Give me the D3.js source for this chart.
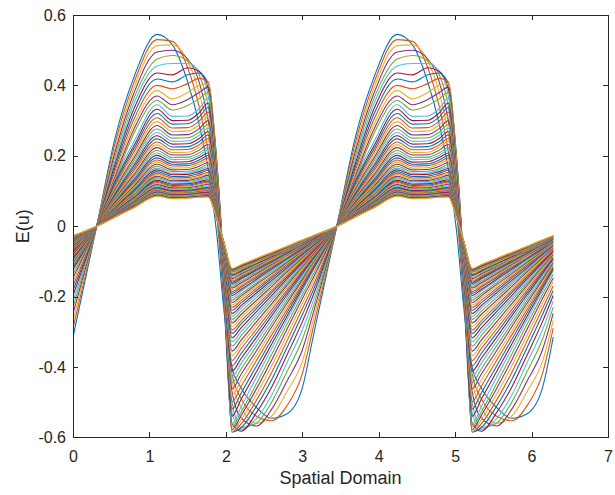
<!DOCTYPE html>
<html><head><meta charset="utf-8">
<script src="https://cdn.jsdelivr.net/npm/d3@7"></script>
<style>body{margin:0;background:#fff}svg{display:block}</style>
</head><body><svg id="c" width="615" height="495"></svg>
<script>
// Shared x positions of one spatial period (the domain [0, 2π] holds two identical periods)
const xGrid = [0, 0.31, 0.55, 0.8, 1.1, 1.3, 1.5, 1.65, 1.77, 1.88, 1.98, 2.08, 2.2, 2.4, 2.6, 2.8, 3.0];
const periodShift = [0, Math.PI];
const domainEnd = 2 * Math.PI;
const xTicks = [0, 1, 2, 3, 4, 5, 6, 7];
const yTicks = [-0.6, -0.4, -0.2, 0, 0.2, 0.4, 0.6];
const xLabel = "Spatial Domain";
const yLabel = "E(u)";
const colorOrder = ["#0072BD", "#D95319", "#EDB120", "#7E2F8E", "#77AC30", "#4DBEEE", "#A2142F"];
// E(u) for each time step (row), at xGrid
const eCurves = [
[-0.315,0,0.25,0.425,0.545,0.515,0.41,0.29,0.16,-0.02,-0.25,-0.40,-0.46,-0.515,-0.546,-0.533,-0.46],
[-0.29,0,0.235,0.41,0.53,0.525,0.45,0.34,0.21,0.03,-0.22,-0.42,-0.49,-0.54,-0.553,-0.51,-0.42],
[-0.268,0,0.222,0.395,0.513,0.515,0.47,0.38,0.26,0.07,-0.2,-0.44,-0.515,-0.56,-0.54,-0.47,-0.385],
[-0.248,0,0.21,0.38,0.495,0.5,0.475,0.41,0.3,0.11,-0.18,-0.47,-0.545,-0.568,-0.52,-0.44,-0.352],
[-0.23,0,0.198,0.365,0.475,0.485,0.47,0.43,0.34,0.14,-0.17,-0.5,-0.572,-0.56,-0.5,-0.413,-0.322],
[-0.213,0,0.187,0.35,0.455,0.462,0.462,0.44,0.37,0.16,-0.16,-0.53,-0.578,-0.547,-0.48,-0.388,-0.295],
[-0.197,0,0.176,0.335,0.435,0.43,0.45,0.44,0.39,0.18,-0.15,-0.56,-0.583,-0.53,-0.457,-0.366,-0.272],
[-0.183,0,0.166,0.32,0.418,0.41,0.43,0.435,0.405,0.19,-0.15,-0.585,-0.573,-0.512,-0.436,-0.345,-0.252],
[-0.17,0,0.157,0.305,0.4,0.39,0.405,0.42,0.41,0.18,-0.16,-0.585,-0.562,-0.495,-0.416,-0.326,-0.235],
[-0.158,0,0.148,0.29,0.385,0.362,0.38,0.4,0.405,0.17,-0.17,-0.583,-0.55,-0.478,-0.397,-0.309,-0.22],
[-0.147,0,0.14,0.277,0.37,0.345,0.36,0.38,0.395,0.15,-0.18,-0.578,-0.538,-0.462,-0.38,-0.293,-0.206],
[-0.137,0,0.133,0.265,0.357,0.33,0.343,0.362,0.38,0.12,-0.2,-0.57,-0.528,-0.448,-0.364,-0.279,-0.195],
[-0.127,0,0.132,0.241,0.345,0.312,0.313,0.334,0.364,0.086,-0.238,-0.562,-0.513,-0.43,-0.348,-0.266,-0.184],
[-0.122,0,0.126,0.23,0.332,0.3,0.301,0.322,0.35,0.083,-0.229,-0.54,-0.492,-0.414,-0.335,-0.256,-0.177],
[-0.118,0,0.12,0.221,0.32,0.29,0.291,0.31,0.337,0.08,-0.22,-0.52,-0.474,-0.398,-0.322,-0.246,-0.171],
[-0.113,0,0.114,0.212,0.308,0.279,0.28,0.298,0.324,0.077,-0.211,-0.499,-0.455,-0.382,-0.309,-0.237,-0.164],
[-0.108,0,0.109,0.203,0.297,0.269,0.27,0.288,0.312,0.074,-0.203,-0.48,-0.438,-0.368,-0.298,-0.228,-0.157],
[-0.104,0,0.104,0.195,0.286,0.259,0.26,0.277,0.3,0.071,-0.195,-0.462,-0.421,-0.354,-0.286,-0.219,-0.152],
[-0.101,0,0.1,0.187,0.276,0.25,0.251,0.267,0.289,0.069,-0.188,-0.445,-0.406,-0.341,-0.276,-0.211,-0.146],
[-0.097,0,0.095,0.179,0.266,0.241,0.242,0.258,0.278,0.066,-0.181,-0.428,-0.39,-0.328,-0.265,-0.203,-0.14],
[-0.093,0,0.091,0.173,0.257,0.233,0.234,0.249,0.269,0.065,-0.174,-0.412,-0.376,-0.316,-0.255,-0.195,-0.135],
[-0.09,0,0.088,0.166,0.248,0.225,0.226,0.24,0.259,0.062,-0.167,-0.397,-0.362,-0.304,-0.246,-0.188,-0.13],
[-0.086,0,0.084,0.159,0.239,0.217,0.218,0.231,0.249,0.06,-0.161,-0.382,-0.348,-0.293,-0.237,-0.181,-0.125],
[-0.083,0,0.08,0.153,0.231,0.209,0.21,0.224,0.241,0.058,-0.155,-0.368,-0.336,-0.282,-0.228,-0.174,-0.121],
[-0.08,0,0.077,0.147,0.223,0.202,0.203,0.216,0.232,0.056,-0.15,-0.355,-0.324,-0.272,-0.22,-0.168,-0.116],
[-0.077,0,0.074,0.142,0.215,0.195,0.196,0.208,0.223,0.054,-0.144,-0.341,-0.311,-0.261,-0.211,-0.162,-0.112],
[-0.074,0,0.071,0.137,0.208,0.189,0.19,0.201,0.216,0.052,-0.138,-0.329,-0.3,-0.252,-0.204,-0.156,-0.108],
[-0.072,0,0.068,0.132,0.201,0.182,0.183,0.195,0.208,0.05,-0.133,-0.317,-0.289,-0.243,-0.197,-0.15,-0.104],
[-0.069,0,0.065,0.127,0.194,0.176,0.177,0.188,0.201,0.049,-0.128,-0.305,-0.278,-0.234,-0.189,-0.145,-0.1],
[-0.067,0,0.063,0.122,0.188,0.171,0.172,0.182,0.194,0.047,-0.124,-0.295,-0.269,-0.226,-0.183,-0.14,-0.097],
[-0.064,0,0.061,0.118,0.182,0.165,0.166,0.176,0.188,0.046,-0.119,-0.285,-0.26,-0.218,-0.177,-0.135,-0.093],
[-0.062,0,0.058,0.114,0.176,0.16,0.161,0.17,0.181,0.044,-0.115,-0.275,-0.251,-0.211,-0.171,-0.13,-0.09],
[-0.06,0,0.056,0.11,0.17,0.155,0.156,0.164,0.175,0.043,-0.111,-0.265,-0.242,-0.203,-0.164,-0.126,-0.087],
[-0.058,0,0.054,0.106,0.165,0.15,0.151,0.16,0.169,0.041,-0.107,-0.256,-0.233,-0.196,-0.159,-0.121,-0.084],
[-0.056,0,0.052,0.103,0.16,0.146,0.147,0.155,0.164,0.04,-0.104,-0.248,-0.226,-0.19,-0.154,-0.118,-0.081],
[-0.054,0,0.05,0.099,0.155,0.141,0.142,0.15,0.159,0.04,-0.1,-0.239,-0.218,-0.183,-0.148,-0.113,-0.078],
[-0.052,0,0.049,0.096,0.15,0.137,0.138,0.145,0.153,0.038,-0.097,-0.231,-0.211,-0.177,-0.143,-0.109,-0.076],
[-0.051,0,0.047,0.093,0.146,0.133,0.134,0.141,0.149,0.037,-0.093,-0.224,-0.204,-0.172,-0.139,-0.106,-0.073],
[-0.049,0,0.046,0.09,0.142,0.129,0.13,0.137,0.145,0.036,-0.09,-0.217,-0.198,-0.166,-0.135,-0.103,-0.071],
[-0.047,0,0.044,0.088,0.138,0.126,0.127,0.133,0.14,0.035,-0.088,-0.21,-0.192,-0.161,-0.13,-0.1,-0.069],
[-0.046,0,0.043,0.085,0.134,0.122,0.123,0.13,0.136,0.034,-0.084,-0.203,-0.185,-0.155,-0.126,-0.096,-0.067],
[-0.044,0,0.041,0.082,0.13,0.119,0.12,0.126,0.132,0.033,-0.082,-0.197,-0.18,-0.151,-0.122,-0.093,-0.065],
[-0.043,0,0.04,0.08,0.127,0.116,0.117,0.123,0.128,0.032,-0.079,-0.191,-0.174,-0.146,-0.118,-0.091,-0.063],
[-0.042,0,0.039,0.078,0.124,0.113,0.114,0.12,0.125,0.032,-0.077,-0.186,-0.17,-0.142,-0.115,-0.088,-0.061],
[-0.041,0,0.038,0.076,0.121,0.11,0.111,0.117,0.122,0.031,-0.075,-0.181,-0.165,-0.139,-0.112,-0.086,-0.059],
[-0.04,0,0.037,0.074,0.118,0.108,0.109,0.114,0.119,0.03,-0.073,-0.176,-0.161,-0.135,-0.109,-0.083,-0.058],
[-0.039,0,0.036,0.072,0.115,0.105,0.106,0.111,0.115,0.029,-0.071,-0.171,-0.156,-0.131,-0.106,-0.081,-0.056],
[-0.038,0,0.035,0.07,0.112,0.102,0.103,0.108,0.112,0.029,-0.069,-0.166,-0.151,-0.127,-0.103,-0.079,-0.054],
[-0.037,0,0.034,0.069,0.11,0.101,0.102,0.106,0.11,0.028,-0.067,-0.163,-0.149,-0.125,-0.101,-0.077,-0.053],
[-0.036,0,0.034,0.068,0.108,0.099,0.1,0.104,0.108,0.028,-0.066,-0.159,-0.145,-0.122,-0.099,-0.075,-0.052],
[-0.035,0,0.033,0.066,0.106,0.097,0.098,0.102,0.106,0.027,-0.064,-0.156,-0.142,-0.119,-0.097,-0.074,-0.051],
[-0.034,0,0.032,0.065,0.104,0.095,0.096,0.1,0.104,0.027,-0.062,-0.152,-0.139,-0.116,-0.094,-0.072,-0.05],
[-0.034,0,0.032,0.064,0.102,0.093,0.094,0.098,0.101,0.026,-0.062,-0.149,-0.136,-0.114,-0.092,-0.071,-0.049],
[-0.033,0,0.031,0.063,0.1,0.092,0.093,0.097,0.099,0.025,-0.06,-0.146,-0.133,-0.112,-0.091,-0.069,-0.048],
[-0.032,0,0.03,0.061,0.098,0.09,0.091,0.095,0.097,0.025,-0.058,-0.142,-0.13,-0.109,-0.088,-0.067,-0.047],
[-0.032,0,0.03,0.06,0.097,0.089,0.09,0.094,0.096,0.025,-0.057,-0.14,-0.128,-0.107,-0.087,-0.066,-0.046],
[-0.031,0,0.029,0.059,0.095,0.087,0.088,0.092,0.094,0.025,-0.056,-0.137,-0.125,-0.105,-0.085,-0.065,-0.045],
[-0.031,0,0.029,0.059,0.094,0.086,0.087,0.091,0.093,0.025,-0.055,-0.135,-0.123,-0.103,-0.084,-0.064,-0.044],
[-0.03,0,0.028,0.058,0.093,0.085,0.086,0.09,0.092,0.024,-0.055,-0.134,-0.122,-0.103,-0.083,-0.064,-0.044],
[-0.029,0,0.028,0.057,0.091,0.083,0.084,0.088,0.09,0.024,-0.053,-0.13,-0.119,-0.1,-0.081,-0.062,-0.043],
[-0.029,0,0.027,0.056,0.09,0.083,0.084,0.087,0.088,0.023,-0.053,-0.129,-0.118,-0.099,-0.08,-0.061,-0.042],
[-0.029,0,0.027,0.055,0.089,0.082,0.083,0.086,0.087,0.023,-0.052,-0.127,-0.116,-0.097,-0.079,-0.06,-0.042],
[-0.028,0,0.027,0.055,0.088,0.081,0.082,0.085,0.086,0.023,-0.051,-0.125,-0.114,-0.096,-0.078,-0.059,-0.041],
[-0.028,0,0.026,0.054,0.087,0.08,0.081,0.084,0.085,0.023,-0.05,-0.123,-0.112,-0.094,-0.076,-0.058,-0.04],
[-0.028,0,0.026,0.053,0.086,0.079,0.08,0.083,0.084,0.022,-0.05,-0.122,-0.111,-0.093,-0.076,-0.058,-0.04],
[-0.027,0,0.026,0.053,0.085,0.078,0.079,0.082,0.083,0.022,-0.049,-0.12,-0.109,-0.092,-0.074,-0.057,-0.039]
];

const svg = d3.select("#c");
const x = d3.scaleLinear().domain([0, 7]).range([73, 608]);
const y = d3.scaleLinear().domain([-0.6, 0.6]).range([437.3, 15]);
const axisColor = "#262626";
const font = "'Liberation Sans', Arial, Helvetica, sans-serif";

svg.append("defs").append("clipPath").attr("id", "clip")
  .append("rect").attr("x", x(0)).attr("y", y(0.6)).attr("width", x(7) - x(0)).attr("height", y(-0.6) - y(0.6));

const line = d3.line().x(d => x(d[0])).y(d => y(d[1])).curve(d3.curveMonotoneX);

const plot = svg.append("g").attr("clip-path", "url(#clip)");
eCurves.forEach((row, k) => {
  const pts = [];
  periodShift.forEach(s => xGrid.forEach((xv, i) => pts.push([xv + s, row[i]])));
  pts.push([domainEnd, row[0]]);
  plot.append("path").attr("d", line(pts))
    .attr("fill", "none").attr("stroke", colorOrder[k % colorOrder.length])
    .attr("stroke-width", 1.1).attr("stroke-linejoin", "round");
});

const fmt = d => String(d);
function styleAxis(g) {
  g.select(".domain").remove();
  g.selectAll("line").attr("stroke", axisColor).attr("shape-rendering", "crispEdges");
  g.selectAll("text").attr("fill", axisColor).style("font-family", font).style("font-size", "16px");
}
svg.append("g").attr("transform", `translate(0,${y(-0.6)})`)
  .call(d3.axisBottom(x).tickValues(xTicks).tickFormat(fmt).tickSize(-5).tickPadding(13)).call(styleAxis);
svg.append("g").attr("transform", `translate(0,${y(0.6)})`)
  .call(d3.axisTop(x).tickValues(xTicks).tickFormat("").tickSize(-5)).call(styleAxis);
svg.append("g").attr("transform", `translate(${x(0)},0)`)
  .call(d3.axisLeft(y).tickValues(yTicks).tickFormat(fmt).tickSize(-5).tickPadding(7)).call(styleAxis);
svg.append("g").attr("transform", `translate(${x(7)},0)`)
  .call(d3.axisRight(y).tickValues(yTicks).tickFormat("").tickSize(-5)).call(styleAxis);

svg.append("rect").attr("x", x(0)).attr("y", y(0.6)).attr("width", x(7) - x(0)).attr("height", y(-0.6) - y(0.6))
  .attr("fill", "none").attr("stroke", axisColor).attr("stroke-width", 1).attr("shape-rendering", "crispEdges");

svg.append("text").attr("x", (x(0) + x(7)) / 2).attr("y", 484).attr("text-anchor", "middle")
  .attr("fill", axisColor).style("font-family", font).style("font-size", "18px").text(xLabel);
svg.append("text").attr("transform", `translate(29,${(y(0.6) + y(-0.6)) / 2}) rotate(-90)`).attr("text-anchor", "middle")
  .attr("fill", axisColor).style("font-family", font).style("font-size", "18px").text(yLabel);
</script>
</body></html>
